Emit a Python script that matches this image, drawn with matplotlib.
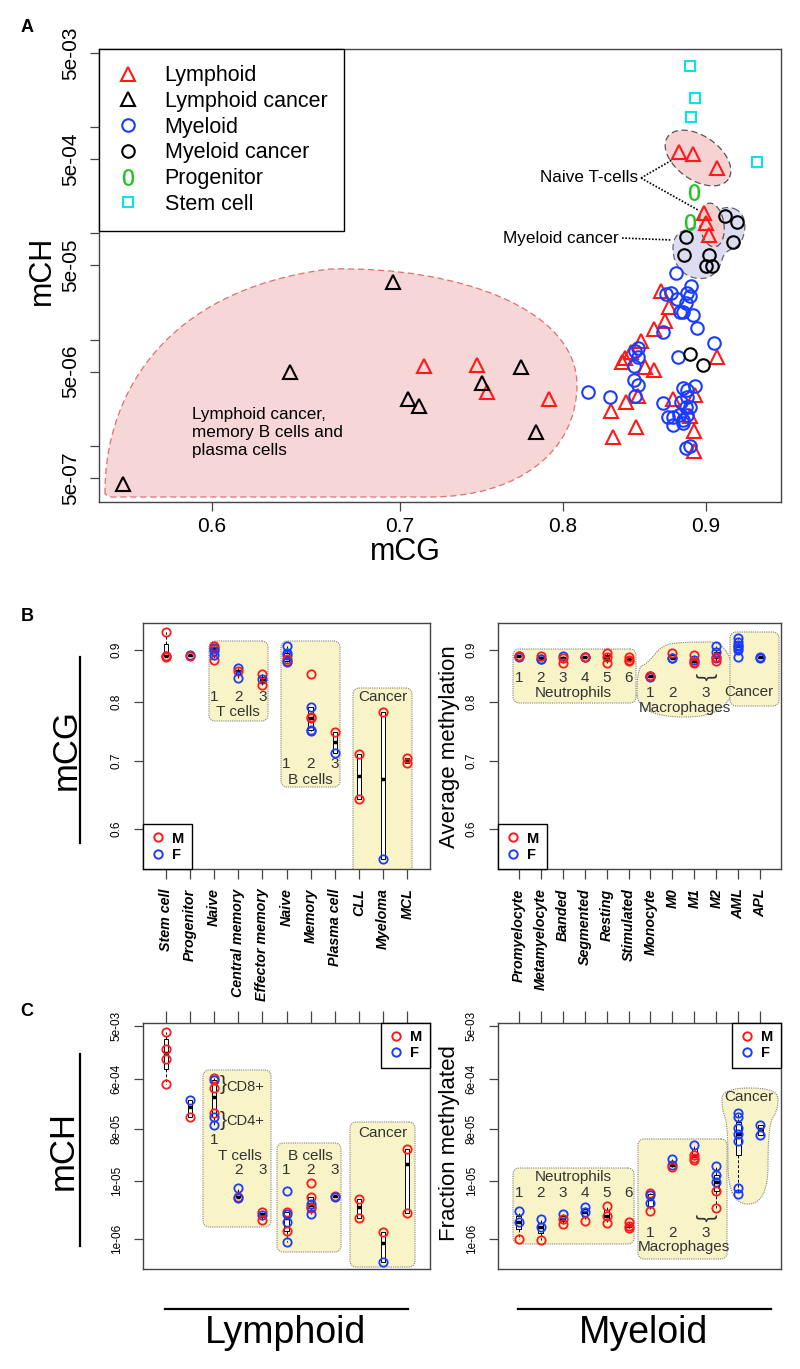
import numpy as np
import matplotlib.pyplot as plt
from matplotlib.lines import Line2D
from matplotlib.patches import Polygon, PathPatch
from matplotlib.path import Path
from matplotlib.ticker import NullLocator

plt.rcParams['font.family'] = ['Liberation Sans', 'DejaVu Sans']

RED, BLUE, CYAN, GREEN = '#ff1a1a', '#1a3cff', '#00e5ee', '#22c022'

# ---------------- panel A: per-sample mCG / mCH ----------------
lym_mcg = [0.880, 0.890, 0.908, 0.8986, 0.900, 0.902, 0.714, 0.746, 0.752, 0.791,
           0.867, 0.873, 0.870, 0.8625, 0.853, 0.846, 0.842, 0.840, 0.856, 0.862,
           0.908, 0.851, 0.843, 0.8325, 0.834, 0.850, 0.876, 0.892, 0.891, 0.891, 0.888]
lym_mch = [5.85e-4, 5.6e-4, 4.14e-4, 1.56e-4, 1.26e-4, 9.7e-5, 5.67e-6, 5.8e-6, 3.23e-6, 2.77e-6,
           2.88e-5, 2.03e-5, 1.5e-5, 1.26e-5, 9.7e-6, 7.7e-6, 6.7e-6, 6.2e-6, 5.5e-6, 5.2e-6,
           6.9e-6, 2.96e-6, 2.6e-6, 2.14e-6, 1.22e-6, 1.51e-6, 2.77e-6, 3.0e-6, 1.38e-6, 9.0e-7, 1.92e-6]
lymca_mcg = [0.558, 0.640, 0.696, 0.705, 0.711, 0.749, 0.773, 0.783]
lymca_mch = [4.4e-7, 4.98e-6, 3.5e-5, 2.77e-6, 2.38e-6, 3.92e-6, 5.55e-6, 1.36e-6]
mye_mcg = [0.878, 0.8746, 0.871, 0.879, 0.886, 0.889, 0.888, 0.885, 0.881, 0.883, 0.890,
           0.893, 0.869, 0.906, 0.851, 0.849, 0.851, 0.848, 0.8795, 0.848, 0.851, 0.849,
           0.817, 0.832, 0.869, 0.892, 0.883, 0.886, 0.886, 0.882, 0.888, 0.885, 0.872,
           0.876, 0.880, 0.883, 0.886, 0.876, 0.883, 0.885, 0.888]
mye_mch = [4.25e-5, 2.75e-5, 2.7e-5, 2.42e-5, 2.75e-5, 3.2e-5, 2.58e-5, 2.22e-5, 1.82e-5, 1.82e-5,
           1.71e-5, 1.29e-5, 1.18e-5, 9.3e-6, 8.4e-6, 7.8e-6, 6.9e-6, 5.7e-6, 6.9e-6, 4.2e-6,
           3.75e-6, 2.96e-6, 3.23e-6, 2.9e-6, 2.54e-6, 3.67e-6, 3.52e-6, 3.37e-6, 2.9e-6, 2.6e-6,
           2.33e-6, 2.33e-6, 1.88e-6, 1.88e-6, 1.96e-6, 1.76e-6, 1.96e-6, 1.58e-6, 1.65e-6, 9.6e-7, 1.0e-6]
myeca_mcg = [0.914, 0.923, 0.920, 0.885, 0.884, 0.902, 0.900, 0.904, 0.888, 0.898]
myeca_mch = [1.46e-4, 1.28e-4, 8.3e-5, 9.3e-5, 6.28e-5, 6.28e-5, 4.95e-5, 4.95e-5, 7.3e-6, 5.8e-6]
prog_mcg = [0.891, 0.888]
prog_mch = [2.46e-4, 1.28e-4]
stem_mcg = [0.888, 0.892, 0.889, 0.938]
stem_mch = [3.77e-3, 1.89e-3, 1.25e-3, 4.71e-4]

a_yticks = [5e-3, 1e-3, 5e-4, 1e-4, 5e-5, 1e-5, 5e-6, 1e-6, 5e-7]
a_ylabels = ['5e-03', '', '5e-04', '', '5e-05', '', '5e-06', '', '5e-07']
a_xticks = [0.6, 0.7, 0.8, 0.9]

# ---------------- panels B/C: per cell type ----------------
lym_cats = ['Stem cell', 'Progenitor', 'Naive', 'Central memory', 'Effector memory',
            'Naive', 'Memory', 'Plasma cell', 'CLL', 'Myeloma', 'MCL']
lym_sex = ['MMMM', 'FM', 'MFMMFF', 'FMF', 'MFM', 'FMFFMF', 'MMFFMF', 'MF', 'MM', 'MF', 'MM']
lym_cg = [[0.937, 0.889, 0.888, 0.887], [0.891, 0.889],
          [0.909, 0.905, 0.880, 0.903, 0.898, 0.890], [0.864, 0.858, 0.845],
          [0.852, 0.842, 0.832], [0.908, 0.879, 0.895, 0.890, 0.882, 0.876],
          [0.852, 0.773, 0.791, 0.749, 0.771, 0.751], [0.748, 0.712],
          [0.711, 0.642], [0.783, 0.560], [0.7045, 0.697]]
lym_ch = [[3.98e-3, 1.99e-3, 1.32e-3, 4.9e-4], [2.58e-4, 1.31e-4],
          [6.24e-4, 5.75e-4, 4.18e-4, 1.54e-4, 1.31e-4, 9.5e-5], [7.6e-6, 5.4e-6, 5.1e-6],
          [2.9e-6, 2.58e-6, 2.1e-6], [6.76e-6, 2.9e-6, 2.69e-6, 1.95e-6, 1.36e-6, 8.7e-7],
          [9.3e-6, 5.3e-6, 4.0e-6, 3.56e-6, 3.42e-6, 2.69e-6], [5.5e-6, 5.4e-6],
          [4.9e-6, 2.29e-6], [1.31e-6, 3.9e-7], [3.63e-5, 2.8e-6]]

mye_cats = ['Promyelocyte', 'Metamyelocyte', 'Banded', 'Segmented', 'Resting', 'Stimulated',
            'Monocyte', 'M0', 'M1', 'M2', 'AML', 'APL']
mye_sex = ['FFM', 'FFM', 'FMM', 'FFM', 'MMM', 'MMM', 'MFFM', 'FFM', 'FMMM', 'FFFMM', 'FFFFFFF', 'FF']
mye_cg = [[0.888, 0.887, 0.888], [0.882, 0.883, 0.888], [0.888, 0.885, 0.874],
          [0.887, 0.886, 0.886], [0.894, 0.886, 0.874], [0.887, 0.880, 0.879],
          [0.849, 0.848, 0.847, 0.848], [0.884, 0.885, 0.894], [0.880, 0.890, 0.874, 0.877],
          [0.908, 0.896, 0.884, 0.886, 0.878], [0.925, 0.917, 0.908, 0.900, 0.886, 0.905, 0.910],
          [0.885, 0.886]]
mye_ch = [[3.07e-6, 1.98e-6, 9.9e-7], [2.2e-6, 1.6e-6, 9.5e-7], [2.69e-6, 2.2e-6, 1.8e-6],
          [3.6e-6, 2.94e-6, 2.06e-6], [3.75e-6, 2.48e-6, 1.88e-6], [1.93e-6, 1.66e-6, 1.53e-6],
          [6.3e-6, 5.75e-6, 4.18e-6, 3.07e-6], [2.43e-5, 1.91e-5, 1.77e-5],
          [4.27e-5, 2.86e-5, 2.53e-5, 2.34e-5], [1.84e-5, 1.28e-5, 9.7e-6, 6.75e-6, 3.42e-6],
          [1.55e-4, 1.31e-4, 8.4e-5, 6.6e-5, 5.0e-5, 7.6e-6, 6.0e-6], [9.5e-5, 6.35e-5]]

cg_ticks = [0.6, 0.7, 0.8, 0.9]
ch_ticks = [5e-3, 6e-4, 8e-5, 1e-5, 1e-6]
ch_labels = ['5e-03', '6e-04', '8e-05', '1e-05', '1e-06']

SEX_COL = {'M': RED, 'F': BLUE}

# --- figure, axes placed in pixel units of the 800x1369 canvas ---
W, H = 800, 1369
fig = plt.figure(figsize=(W / 100, H / 100), dpi=100)


def add_ax(l, t, r, b):
    ax = fig.add_axes([l / W, 1 - b / H, (r - l) / W, (b - t) / H])
    ax.px = (l, t, r, b)
    for s in ax.spines.values():
        s.set_color('#444444')
        s.set_linewidth(1)
    return ax


def to_ax(ax, pts):
    l, t, r, b = ax.px
    pts = np.asarray(pts, float)
    return np.column_stack([(pts[:, 0] - l) / (r - l), (b - pts[:, 1]) / (b - t)])


def smooth(pts, n=3):
    p = np.asarray(pts, float)
    for _ in range(n):
        q = np.roll(p, -1, axis=0)
        p = np.vstack([np.column_stack([0.75 * p[:, 0] + 0.25 * q[:, 0], 0.75 * p[:, 1] + 0.25 * q[:, 1]]),
                       np.column_stack([0.25 * p[:, 0] + 0.75 * q[:, 0], 0.25 * p[:, 1] + 0.75 * q[:, 1]])])
        p = p.reshape(2, -1, 2).transpose(1, 0, 2).reshape(-1, 2)
    return p


def rounded(x0, y0, x1, y1, r=6):
    pts = []
    for cx, cy, a0 in [(x1 - r, y0 + r, -90), (x1 - r, y1 - r, 0), (x0 + r, y1 - r, 90), (x0 + r, y0 + r, 180)]:
        a = np.radians(np.linspace(a0, a0 + 90, 8))
        pts += list(zip(cx + r * np.cos(a), cy + r * np.sin(a)))
    return pts


def ellipse(cx, cy, a, b, ang):
    t = np.linspace(0, 2 * np.pi, 90)
    c, s = np.cos(np.radians(ang)), np.sin(np.radians(ang))
    x, y = a * np.cos(t), b * np.sin(t)
    return np.column_stack([cx + x * c - y * s, cy + x * s + y * c])


def region(ax, pts, fc, ec, ls, lw=0.9, z=0.5):
    ax.add_patch(Polygon(to_ax(ax, pts), closed=True, transform=ax.transAxes,
                         facecolor=fc, edgecolor=ec, linestyle=ls, linewidth=lw, zorder=z))


def hl(ax, pts):
    region(ax, pts, '#f8f4c8', '#808080', (0, (1, 1)), lw=0.8, z=0.5)


# ================= panel A =================
axA = add_ax(99, 49, 781, 502)
axA.set_xscale('log')
axA.set_yscale('log')
axA.set_xlim(0.547, 0.957)
axA.set_ylim(2.97e-7, 5.45e-3)

# lymphoid cancer region (bezier outline)
verts = [(105, 494), (104, 400), (160, 290), (330, 269), (460, 266), (577, 310), (577, 385),
         (577, 450), (520, 497), (430, 497), (110, 497), (105, 494)]
codes = [Path.MOVETO] + [Path.CURVE4] * 9 + [Path.LINETO, Path.CLOSEPOLY]
axA.add_patch(PathPatch(Path(to_ax(axA, verts), codes), transform=axA.transAxes,
                        facecolor='#f6d6d6', edgecolor='#e07070', linestyle=(0, (5, 3)),
                        linewidth=0.9, zorder=0.5))
region(axA, ellipse(698, 158, 37, 22, 35), '#f6d2d2', '#555555', (0, (5, 3)))
region(axA, smooth([(728, 206), (742, 212), (746, 228), (740, 246), (724, 252), (720, 268),
                    (708, 279), (690, 278), (676, 266), (672, 248), (676, 234), (690, 228),
                    (706, 226), (714, 212)]), '#dcdcf2', '#666666', (0, (5, 3)))
region(axA, ellipse(712, 225, 12, 22, -8), '#f3cfcf', '#555555', (0, (5, 3)), z=0.6)

mk = dict(ls='none', mfc='none', mew=1.5, zorder=3)
axA.plot(lym_mcg, lym_mch, marker='^', ms=10.5, mec=RED, **mk)
axA.plot(lymca_mcg, lymca_mch, marker='^', ms=10.5, mec='black', **mk)
axA.plot(mye_mcg, mye_mch, marker='o', ms=9, mec=BLUE, **mk)
axA.plot(myeca_mcg, myeca_mch, marker='o', ms=9, mec='black', **mk)
axA.plot(prog_mcg, prog_mch, ls='none', marker='$0$', ms=12, color=GREEN, mew=0.2, zorder=3)
axA.plot(stem_mcg, stem_mch, marker='s', ms=7.5, mec=CYAN, **mk)

axA.set_yticks(a_yticks, a_ylabels)
axA.set_xticks(a_xticks, [str(v) for v in a_xticks])
axA.xaxis.set_minor_locator(NullLocator())
axA.yaxis.set_minor_locator(NullLocator())
axA.tick_params(length=6.5, width=0.9, color='#444444', labelsize=15)
axA.tick_params(axis='x', pad=4)
axA.tick_params(axis='y', pad=7, labelrotation=90)
for lab in axA.get_yticklabels():
    lab.set_va('center')

# leader lines and annotation text
for seg in [[(641, 178), (672, 160)], [(641, 178), (698, 210)], [(622, 238), (672, 240)]]:
    p = to_ax(axA, seg)
    axA.plot(p[:, 0], p[:, 1], transform=axA.transAxes, color='black', lw=1.2, ls=(0, (1, 1)), zorder=2)
p = to_ax(axA, [(638, 178), (619, 238), (192, 432)])
axA.text(*p[0], 'Naive T-cells', transform=axA.transAxes, ha='right', va='center', fontsize=12.3)
axA.text(*p[1], 'Myeloid cancer', transform=axA.transAxes, ha='right', va='center', fontsize=12.3)
axA.text(*p[2], 'Lymphoid cancer,\nmemory B cells and\nplasma cells', transform=axA.transAxes,
         ha='left', va='center', fontsize=12.3, linespacing=1.25)

hA = [Line2D([], [], marker='^', ms=10.5, mec=RED, **mk),
      Line2D([], [], marker='^', ms=10.5, mec='black', **mk),
      Line2D([], [], marker='o', ms=9, mec=BLUE, **mk),
      Line2D([], [], marker='o', ms=9, mec='black', **mk),
      Line2D([], [], ls='none', marker='$0$', ms=12, color=GREEN, mew=0.2),
      Line2D([], [], marker='s', ms=7.5, mec=CYAN, **mk)]
legA = axA.legend(hA, ['Lymphoid', 'Lymphoid cancer', 'Myeloid', 'Myeloid cancer', 'Progenitor', 'Stem cell'],
                  loc='upper left', borderaxespad=0, fancybox=False, edgecolor='black', framealpha=1,
                  fontsize=15.5, handlelength=1.2, handletextpad=1.1, labelspacing=0.22, borderpad=0.75)
legA.get_frame().set_linewidth(1)

fig.text(42 / W, 1 - 270 / H, 'mCH', rotation=90, ha='center', va='center', fontsize=22)
fig.text(405 / W, 1 - 560 / H, 'mCG', ha='center', va='baseline', fontsize=22)


# ================= panels B and C =================
def r_box(v):
    v = np.sort(np.asarray(v, float))
    n = len(v)
    n4 = np.floor((n + 3) / 2) / 2
    idx = np.array([1, n4, (n + 1) / 2, n + 1 - n4, n]) - 1
    q = 0.5 * (v[np.floor(idx).astype(int)] + v[np.ceil(idx).astype(int)])
    iqr = q[3] - q[1]
    return dict(med=q[2], q1=q[1], q3=q[3], fliers=[],
                whislo=v[v >= q[1] - 1.5 * iqr].min(), whishi=v[v <= q[3] + 1.5 * iqr].max())


def groups(ax, sexes, values, width):
    pos = np.arange(1, len(values) + 1)
    ax.bxp([r_box(v) for v in values], positions=pos, widths=width, patch_artist=True,
           showcaps=False, showfliers=False, manage_ticks=False,
           boxprops=dict(facecolor='white', edgecolor='black', linewidth=0.7),
           whiskerprops=dict(color='black', linewidth=0.7, linestyle=(0, (3, 2))),
           medianprops=dict(color='black', linewidth=2.5))
    for p, ss, vv in zip(pos, sexes, values):
        for s, v in zip(ss, vv):
            ax.plot(p, v, ls='none', marker='o', ms=6, mfc='none', mec=SEX_COL[s], mew=1.3, zorder=4)


def sex_legend(ax, loc):
    h = [Line2D([], [], ls='none', marker='o', ms=6, mfc='none', mec=c, mew=1.4) for c in (RED, BLUE)]
    leg = ax.legend(h, ['M', 'F'], loc=loc, borderaxespad=0, fancybox=False, edgecolor='black',
                    framealpha=1, prop=dict(weight='bold', size=10.5), handlelength=1,
                    handletextpad=0.5, labelspacing=0.15, borderpad=0.5)
    leg.get_frame().set_linewidth(1)


def setup(ax, n, kind):
    ax.set_xlim(0.06, n + 0.94)
    ax.set_yscale('log')
    if kind == 'B':
        ax.set_ylim(0.548, 0.957)
        ax.set_yticks(cg_ticks, [str(v) for v in cg_ticks])
    else:
        ax.set_ylim(2.97e-7, 5.6e-3)
        ax.set_yticks(ch_ticks, ch_labels)
    ax.yaxis.set_minor_locator(NullLocator())
    ax.tick_params(axis='y', length=6.5, width=0.9, color='#444444', labelsize=8.5,
                   labelrotation=90, pad=8)
    for lab in ax.get_yticklabels():
        lab.set_va('center')


def txt(ax, x, py, s, size=11, **kw):
    l, t, r, b = ax.px
    ax.text(x, (b - py) / (b - t), s, transform=ax.get_xaxis_transform(), ha='center', va='center',
            fontsize=size, color='#333333', **kw)


axBL = add_ax(143, 623, 430, 869)
axBR = add_ax(498, 623, 781, 869)
axCL = add_ax(143, 1023, 430, 1269)
axCR = add_ax(498, 1023, 781, 1269)

for ax, cats, kind in [(axBL, lym_cats, 'B'), (axBR, mye_cats, 'B'), (axCL, lym_cats, 'C'), (axCR, mye_cats, 'C')]:
    setup(ax, len(cats), kind)
    ax.set_xticks(np.arange(1, len(cats) + 1))
    if kind == 'B':
        ax.set_xticklabels(cats, rotation=90, fontstyle='italic', fontweight='bold', fontsize=10.3)
        ax.tick_params(axis='x', length=7, width=0.9, color='#444444', pad=7)
    else:
        ax.xaxis.tick_top()
        ax.tick_params(axis='x', length=9, width=0.9, color='#444444', labeltop=False)

# highlight regions
hl(axBL, rounded(209, 641, 268, 721))
hl(axBL, rounded(281, 641, 340, 787))
hl(axBL, rounded(353, 688, 412, 880))
hl(axBR, rounded(513, 649, 636, 703))
hl(axBR, smooth([(637, 717), (637, 668), (648, 663), (662, 645), (684, 642), (732, 642),
                 (734, 717)], 3))
hl(axBR, rounded(730, 632, 779, 706))
hl(axCL, rounded(203, 1070, 271, 1227))
hl(axCL, rounded(277, 1143, 341, 1252))
hl(axCL, rounded(350, 1122, 415, 1267))
hl(axCR, rounded(513, 1168, 634, 1244))
hl(axCR, rounded(638, 1139, 727, 1259))
hl(axCR, smooth([(722, 1088), (778, 1088), (778, 1110), (768, 1125), (768, 1204), (728, 1204),
                 (728, 1125), (722, 1110)], 3))

groups(axBL, lym_sex, lym_cg, 0.18)
groups(axBR, mye_sex, mye_cg, 0.2)
groups(axCL, lym_sex, lym_ch, 0.18)
groups(axCR, mye_sex, mye_ch, 0.2)

sex_legend(axBL, 'lower left')
sex_legend(axBR, 'lower left')
sex_legend(axCL, 'upper right')
sex_legend(axCR, 'upper right')

# labels inside highlight regions
for i, d in enumerate('123'):
    txt(axBL, 3 + i, 697, d)
    txt(axBL, 6 + i, 764, d)
txt(axBL, 4, 712, 'T cells')
txt(axBL, 7, 780, 'B cells')
txt(axBL, 10, 697, 'Cancer')
for i, d in enumerate('123456'):
    txt(axBR, 1 + i, 678, d)
    txt(axCR, 1 + i, 1193, d)
txt(axBR, 3.5, 693, 'Neutrophils')
for x, d in [(7, '1'), (8, '2'), (9.5, '3')]:
    txt(axBR, x, 693, d)
    txt(axCR, x, 1233, d)
txt(axBR, 8.55, 708, 'Macrophages')
txt(axBR, 9.5, 677, '}', size=16, rotation=-90)
txt(axBR, 11.5, 692, 'Cancer')

txt(axCL, 3.37, 1085, '}', size=15)
txt(axCL, 3.37, 1120, '}', size=15)
txt(axCL, 4.3, 1087, 'CD8+', size=10.5)
txt(axCL, 4.3, 1121, 'CD4+', size=10.5)
txt(axCL, 3, 1140, '1')
txt(axCL, 4.07, 1156, 'T cells')
txt(axCL, 4, 1170, '2')
txt(axCL, 5, 1170, '3')
for i, d in enumerate('123'):
    txt(axCL, 6 + i, 1170, d)
txt(axCL, 7, 1156, 'B cells')
txt(axCL, 10, 1133, 'Cancer')
txt(axCR, 3.5, 1177, 'Neutrophils')
txt(axCR, 8.5, 1247, 'Macrophages')
txt(axCR, 9.5, 1218, '}', size=16, rotation=-90)
txt(axCR, 11.5, 1097, 'Cancer')

# side labels
fig.text(66 / W, 1 - 750 / H, 'mCG', rotation=90, ha='center', va='center', fontsize=25)
fig.text(63 / W, 1 - 1150 / H, 'mCH', rotation=90, ha='center', va='center', fontsize=25)
fig.text(449 / W, 1 - 747 / H, 'Average methylation', rotation=90, ha='center', va='center', fontsize=16)
fig.text(449 / W, 1 - 1143 / H, 'Fraction methylated', rotation=90, ha='center', va='center', fontsize=16)
for x0, x1, y0, y1 in [(80, 80, 657, 843), (80, 80, 1054, 1246), (165, 408, 1309, 1309), (518, 771, 1309, 1309)]:
    fig.add_artist(Line2D([x0 / W, x1 / W], [1 - y0 / H, 1 - y1 / H], color='black', lw=1.6))
fig.text(286 / W, 1 - 1343 / H, 'Lymphoid', ha='center', va='baseline', fontsize=27)
fig.text(644 / W, 1 - 1343 / H, 'Myeloid', ha='center', va='baseline', fontsize=27)

for s, y in [('A', 28), ('B', 616), ('C', 1012)]:
    fig.text(27 / W, 1 - y / H, s, ha='center', va='center', fontsize=13, fontweight='bold')

fig.savefig('out.png', dpi=100)
